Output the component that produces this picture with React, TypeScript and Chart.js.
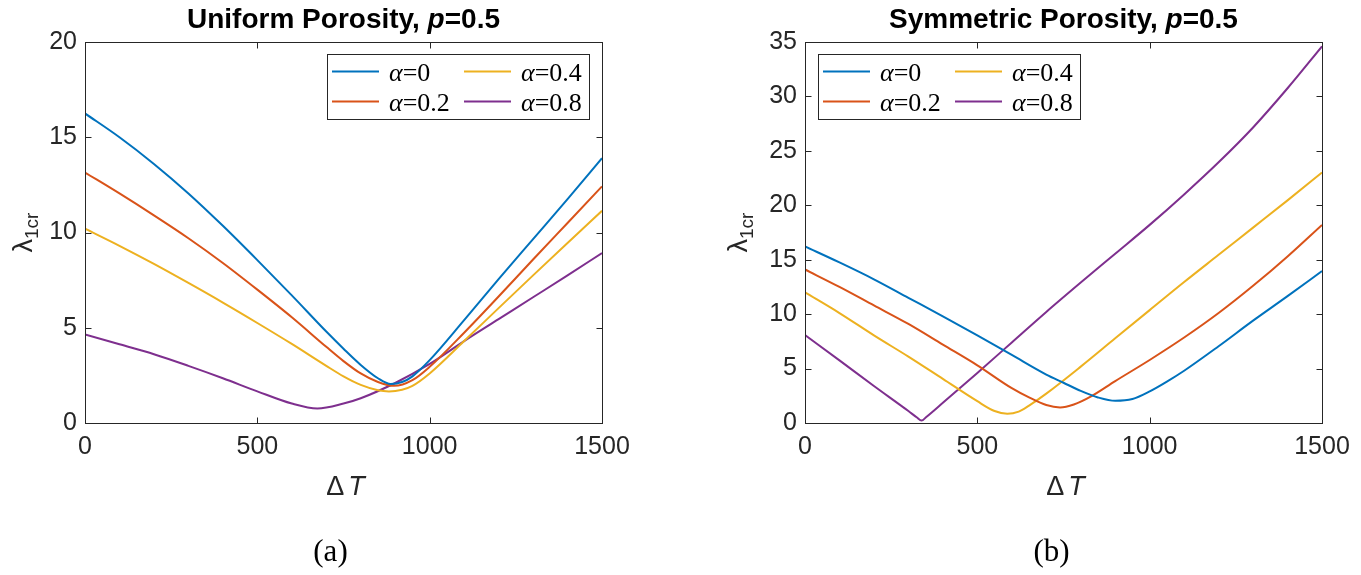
import React, { useEffect, useRef } from "react";
import { Chart, registerables } from "chart.js";

Chart.register(...registerables);

// ---------- data ----------
const seriesColors = ["#0072BD", "#D95319", "#EDB120", "#7E2F8E"];
const alphaValues = ["0", "0.2", "0.4", "0.8"];
const xTickValues = [0, 500, 1000, 1500];

// (a) Uniform porosity
const uBlueX = [0, 100, 200, 300, 400, 500, 600, 700, 750, 800, 850, 887, 920, 950, 1000, 1100, 1200, 1300, 1400, 1500];
const uBlueY = [16.25, 15.0, 13.6, 12.05, 10.35, 8.55, 6.7, 4.8, 3.9, 3.05, 2.35, 2.05, 2.15, 2.45, 3.3, 5.4, 7.55, 9.65, 11.75, 13.9];
const uRedX = [0, 100, 200, 300, 400, 500, 600, 700, 750, 800, 850, 897, 950, 1000, 1100, 1200, 1300, 1400, 1500];
const uRedY = [13.15, 12.05, 10.9, 9.7, 8.4, 7.0, 5.55, 4.0, 3.25, 2.6, 2.15, 1.95, 2.25, 2.95, 4.74, 6.64, 8.58, 10.5, 12.42];
const uYellowX = [0, 100, 200, 300, 400, 500, 600, 700, 750, 800, 850, 882, 920, 950, 1000, 1100, 1200, 1300, 1400, 1500];
const uYellowY = [10.2, 9.3, 8.35, 7.35, 6.32, 5.25, 4.15, 3.0, 2.45, 2.0, 1.72, 1.66, 1.75, 1.95, 2.6, 4.3, 6.03, 7.75, 9.45, 11.14];
const uPurpleX = [0, 100, 200, 300, 400, 500, 600, 674, 750, 800, 900, 1000, 1100, 1200, 1300, 1400, 1500];
const uPurpleY = [4.65, 4.13, 3.61, 3.0, 2.35, 1.66, 1.02, 0.76, 1.02, 1.3, 2.1, 3.1, 4.3, 5.45, 6.6, 7.75, 8.92];

// (b) Symmetric porosity
const sBlueX = [0, 100, 200, 300, 400, 500, 600, 700, 750, 800, 850, 900, 950, 1000, 1050, 1100, 1200, 1300, 1400, 1500];
const sBlueY = [16.22, 14.75, 13.2, 11.5, 9.8, 8.05, 6.25, 4.45, 3.7, 2.95, 2.35, 2.04, 2.2, 2.9, 3.8, 4.8, 7.05, 9.4, 11.65, 13.96];
const sRedX = [0, 100, 200, 300, 400, 500, 600, 650, 700, 740, 780, 830, 900, 1000, 1100, 1200, 1300, 1400, 1500];
const sRedY = [14.1, 12.5, 10.8, 9.1, 7.2, 5.3, 3.2, 2.35, 1.65, 1.43, 1.7, 2.45, 3.85, 5.79, 7.85, 10.1, 12.6, 15.3, 18.2];
const sYellowX = [0, 100, 200, 300, 400, 500, 550, 587, 620, 650, 700, 800, 900, 1000, 1100, 1200, 1300, 1400, 1500];
const sYellowY = [12.0, 10.1, 8.05, 6.1, 4.05, 2.0, 1.1, 0.85, 1.05, 1.6, 2.7, 5.18, 7.78, 10.37, 12.95, 15.45, 17.95, 20.45, 23.02];
const sPurpleX = [0, 100, 200, 300, 325, 338, 352, 400, 500, 600, 700, 800, 900, 1000, 1100, 1200, 1300, 1400, 1500];
const sPurpleY = [8.08, 5.75, 3.4, 1.1, 0.5, 0.22, 0.55, 1.85, 4.6, 7.4, 10.2, 12.9, 15.55, 18.2, 21.0, 23.95, 27.15, 30.75, 34.6];

const SANS = "'Liberation Sans', Arial, sans-serif";
const SERIF = "'Liberation Serif', 'Times New Roman', serif";
const AXIS_COLOR = "#262626";

type Part = { t: string; f: string; dy?: number; gap?: number };

function drawParts(ctx: CanvasRenderingContext2D, parts: Part[], cx: number, baseline: number) {
  let total = 0;
  const widths = parts.map((p) => {
    ctx.font = p.f;
    const w = ctx.measureText(p.t).width + (p.gap || 0);
    total += w;
    return w;
  });
  let x = cx - total / 2;
  ctx.textAlign = "left";
  ctx.textBaseline = "alphabetic";
  parts.forEach((p, i) => {
    ctx.font = p.f;
    ctx.fillText(p.t, x + (p.gap || 0), baseline + (p.dy || 0));
    x += widths[i];
  });
}

function drawLeftParts(ctx: CanvasRenderingContext2D, parts: Part[], x0: number, baseline: number) {
  let x = x0;
  ctx.textAlign = "left";
  ctx.textBaseline = "alphabetic";
  parts.forEach((p) => {
    ctx.font = p.f;
    ctx.fillText(p.t, x, baseline);
    x += ctx.measureText(p.t).width;
  });
}

const decorPlugin = {
  id: "decor",
  afterDraw(chart: any, _args: any, opts: any) {
    const { ctx, chartArea: a, scales } = chart;
    const xs = scales.x;
    const ys = scales.y;
    ctx.save();
    // legend box
    const bw = 262;
    const bh = 65;
    const bx = opts.legendSide === "right" ? a.right - 13 - bw : a.left + 13;
    const by = a.top + 12;
    ctx.fillStyle = "#ffffff";
    ctx.fillRect(bx, by, bw, bh);
    ctx.strokeStyle = AXIS_COLOR;
    ctx.lineWidth = 1;
    ctx.strokeRect(Math.round(bx) + 0.5, Math.round(by) + 0.5, bw, bh);
    const colLine = [5, 137];
    const colText = [62, 194];
    for (let c = 0; c < 2; c++) {
      for (let r = 0; r < 2; r++) {
        const idx = c * 2 + r;
        const ly = by + 17.5 + r * 30;
        ctx.strokeStyle = seriesColors[idx];
        ctx.lineWidth = 2;
        ctx.beginPath();
        ctx.moveTo(bx + colLine[c], ly);
        ctx.lineTo(bx + colLine[c] + 47, ly);
        ctx.stroke();
        ctx.fillStyle = "#000";
        drawLeftParts(
          ctx,
          [
            { t: "\u03b1", f: `italic 26px ${SERIF}` },
            { t: "=" + alphaValues[idx], f: `26px ${SERIF}` },
          ],
          bx + colText[c],
          by + 26.8 + r * 30.3
        );
      }
    }

    // box
    ctx.strokeStyle = AXIS_COLOR;
    ctx.lineWidth = 1;
    const L = Math.round(a.left) + 0.5;
    const R = Math.round(a.right) + 0.5;
    const T = Math.round(a.top) + 0.5;
    const B = Math.round(a.bottom) + 0.5;
    ctx.strokeRect(L, T, R - L, B - T);
    // inner ticks
    const tl = 6;
    ctx.beginPath();
    xs.ticks.forEach((t: any) => {
      const px = Math.round(xs.getPixelForValue(t.value)) + 0.5;
      ctx.moveTo(px, B);
      ctx.lineTo(px, B - tl);
      ctx.moveTo(px, T);
      ctx.lineTo(px, T + tl);
    });
    ys.ticks.forEach((t: any) => {
      const py = Math.round(ys.getPixelForValue(t.value)) + 0.5;
      ctx.moveTo(L, py);
      ctx.lineTo(L + tl, py);
      ctx.moveTo(R, py);
      ctx.lineTo(R - tl, py);
    });
    ctx.stroke();

    const midX = (a.left + a.right) / 2;
    // title
    ctx.fillStyle = "#000";
    drawParts(
      ctx,
      [
        { t: opts.titleText, f: `bold 28px ${SANS}` },
        { t: "p", f: `italic bold 28px ${SANS}` },
        { t: "=0.5", f: `bold 28px ${SANS}` },
      ],
      midX,
      28
    );
    // x axis title
    ctx.fillStyle = AXIS_COLOR;
    drawParts(
      ctx,
      [
        { t: "\u0394", f: `27px ${SANS}` },
        { t: "T", f: `italic 27px ${SANS}`, gap: 4 },
      ],
      midX + 2,
      495
    );
    // y axis title
    ctx.save();
    ctx.translate(a.left - opts.yTitleGap, (a.top + a.bottom) / 2);
    ctx.rotate(-Math.PI / 2);
    drawParts(
      ctx,
      [
        { t: "\u03bb", f: `27px ${SANS}` },
        { t: "1cr", f: `19px ${SANS}`, dy: 6 },
      ],
      0,
      0
    );
    ctx.restore();
    // panel label
    ctx.fillStyle = "#000";
    drawParts(ctx, [{ t: opts.panelLabel, f: `31px ${SERIF}` }], midX + opts.panelShift, 561);
    ctx.restore();
  },
};

function makeDatasets(xsArr: number[][], ysArr: number[][]) {
  return xsArr.map((xv, i) => ({
    label: "\u03b1=" + alphaValues[i],
    data: xv.map((x, j) => ({ x, y: ysArr[i][j] })),
    borderColor: seriesColors[i],
    backgroundColor: seriesColors[i],
    borderWidth: 2,
    pointRadius: 0,
    fill: false,
    cubicInterpolationMode: "monotone" as const,
  }));
}

type PanelProps = {
  left: number;
  width: number;
  padLeft: number;
  padRight: number;
  yMax: number;
  xsArr: number[][];
  ysArr: number[][];
  titleText: string;
  legendSide: string;
  panelLabel: string;
  panelShift: number;
  yTitleGap: number;
};

function Panel(props: PanelProps) {
  const ref = useRef<HTMLCanvasElement | null>(null);
  useEffect(() => {
    if (!ref.current) return;
    const chart = new Chart(ref.current, {
      type: "line",
      data: { datasets: makeDatasets(props.xsArr, props.ysArr) as any },
      plugins: [decorPlugin as any],
      options: {
        animation: false,
        responsive: false,
        devicePixelRatio: 1,
        layout: { padding: { left: 0, right: props.padRight, top: 42, bottom: 0 } },
        plugins: {
          legend: { display: false },
          title: { display: false },
          tooltip: { enabled: false },
          decor: {
            titleText: props.titleText,
            legendSide: props.legendSide,
            panelLabel: props.panelLabel,
            panelShift: props.panelShift,
            yTitleGap: props.yTitleGap,
          },
        } as any,
        scales: {
          x: {
            type: "linear",
            min: 0,
            max: 1500,
            grid: { display: false, drawTicks: false },
            border: { display: false },
            afterFit: (s: any) => {
              s.height = 152;
            },
            afterBuildTicks: (s: any) => {
              s.ticks = xTickValues.map((v) => ({ value: v }));
            },
            ticks: {
              padding: 9,
              color: AXIS_COLOR,
              font: { family: SANS, size: 25 },
              maxRotation: 0,
              autoSkip: false,
              callback: (v: any) => String(v),
            },
          },
          y: {
            type: "linear",
            min: 0,
            max: props.yMax,
            grid: { display: false, drawTicks: false },
            border: { display: false },
            afterFit: (s: any) => {
              s.width = props.padLeft;
            },
            ticks: {
              stepSize: 5,
              padding: 8,
              color: AXIS_COLOR,
              font: { family: SANS, size: 25 },
              callback: (v: any) => String(v),
            },
          },
        },
      } as any,
    });
    return () => chart.destroy();
  }, []);
  return (
    <canvas
      ref={ref}
      width={props.width}
      height={575}
      style={{ position: "absolute", left: props.left, top: 0, width: props.width, height: 575 }}
    />
  );
}

export default function App() {
  return (
    <div style={{ position: "absolute", left: 0, top: 0, width: 1361, height: 575, background: "#fff", overflow: "hidden" }}>
      <Panel
        left={0}
        width={680}
        padLeft={85}
        padRight={78}
        yMax={20}
        xsArr={[uBlueX, uRedX, uYellowX, uPurpleX]}
        ysArr={[uBlueY, uRedY, uYellowY, uPurpleY]}
        titleText="Uniform Porosity, "
        legendSide="right"
        panelLabel="(a)"
        panelShift={-13}
        yTitleGap={53}
      />
      <Panel
        left={680}
        width={681}
        padLeft={125}
        padRight={39}
        yMax={35}
        xsArr={[sBlueX, sRedX, sYellowX, sPurpleX]}
        ysArr={[sBlueY, sRedY, sYellowY, sPurpleY]}
        titleText="Symmetric Porosity, "
        legendSide="left"
        panelLabel="(b)"
        panelShift={-12}
        yTitleGap={58}
      />
    </div>
  );
}
